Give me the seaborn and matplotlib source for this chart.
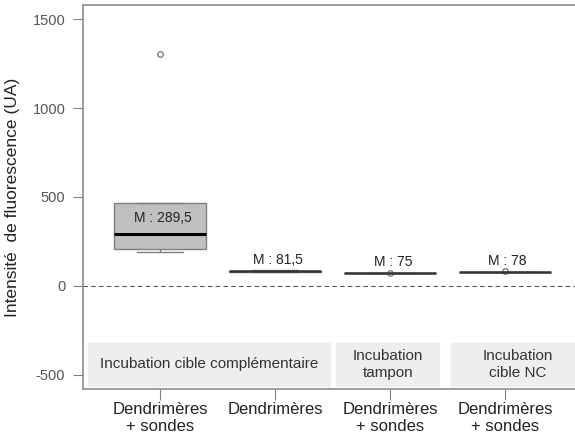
import pandas as pd
import numpy as np
import seaborn as sns
import matplotlib.pyplot as plt

conditions = ["cible_comp_dps", "cible_comp_d", "tampon_dps", "cible_nc_dps"]
tick_labels = ["Dendrimères\n+ sondes", "Dendrimères", "Dendrimères\n+ sondes", "Dendrimères\n+ sondes"]

# raw values (one list per box)
vals_comp_dps = [191, 208, 289.5, 466, 1303]
vals_comp_d = [77, 79, 81.5, 84, 87]
vals_tampon_dps = [75, 75, 75, 75, 73]
vals_nc_dps = [78, 78, 78, 78, 81]

median_labels = ["M : 289,5", "M : 81,5", "M : 75", "M : 78"]

bands = ["Incubation cible complémentaire", "Incubation\ntampon", "Incubation\ncible NC"]
band_spans = [(-0.63, 1.48), (1.53, 2.43), (2.53, 3.7)]

df = pd.concat([
    pd.DataFrame({"cond": c, "value": v})
    for c, v in zip(conditions, [vals_comp_dps, vals_comp_d, vals_tampon_dps, vals_nc_dps])
])

sns.set_style("white")
plt.rcParams["font.family"] = ["Liberation Sans", "DejaVu Sans"]
plt.rcParams["axes.unicode_minus"] = False

fig = plt.figure(figsize=(5.75, 4.36), dpi=100)
ax = fig.add_axes([83 / 575, 47 / 436, 499 / 575, 384 / 436])

sns.boxplot(df, x="cond", y="value", order=conditions, width=0.8, whis=1.5,
            color="#c0c0c0", linecolor="#7f7f7f", linewidth=1, fliersize=4,
            medianprops={"color": "black", "linewidth": 2.2},
            flierprops={"marker": "o", "markerfacecolor": "none",
                        "markeredgecolor": "#808080", "markeredgewidth": 1},
            ax=ax)
# thinner, greyer median lines for the two single-level boxes
for ln in ax.lines:
    pass
med_lines = [l for l in ax.lines if l.get_color() == "black"]
for l in med_lines[2:]:
    l.set_color("#333333")
    l.set_linewidth(1.8)

ax.set_xlim(-0.67, 3.67)
ax.set_ylim(-580, 1580)
ax.axhline(0, color="#555555", lw=0.8, ls=(0, (4, 3)), zorder=0)

# median labels
meds = df.groupby("cond")["value"].median().reindex(conditions)
offsets = [16, 11, 11, 11]
for i, (m, lab) in enumerate(zip(meds, median_labels)):
    ax.annotate(lab, (i, m), xytext=(2, offsets[i] * 0.72), textcoords="offset points",
                ha="center", va="center", fontsize=10, color="#222222")

# grey condition bands at the bottom
for (x0, x1), lab in zip(band_spans, bands):
    ax.add_patch(plt.Rectangle((x0, -565), x1 - x0, 245, color="#eeeeee", zorder=0))
    ax.text((x0 + x1) / 2, -442, lab, ha="center", va="center", fontsize=11,
            color="#333333", linespacing=1.3)

ax.set_yticks([-500, 0, 500, 1000, 1500])
ax.set_xticks(range(4))
ax.set_xticklabels(tick_labels, fontsize=12, color="#222222", linespacing=1.2)
ax.tick_params(axis="y", labelsize=10.5, labelcolor="#555555", length=7.2, pad=5.5,
               color="#808080", direction="out", left=True)
ax.tick_params(axis="x", length=8, color="#808080", direction="out", bottom=True, pad=1)
ax.set_xlabel("")
ax.set_ylabel("Intensité  de fluorescence (UA)", fontsize=12.5, color="#222222", labelpad=9)
for s in ax.spines.values():
    s.set_color("#8c8c8c")
    s.set_linewidth(1.2)

fig.savefig("out.png", dpi=100)
